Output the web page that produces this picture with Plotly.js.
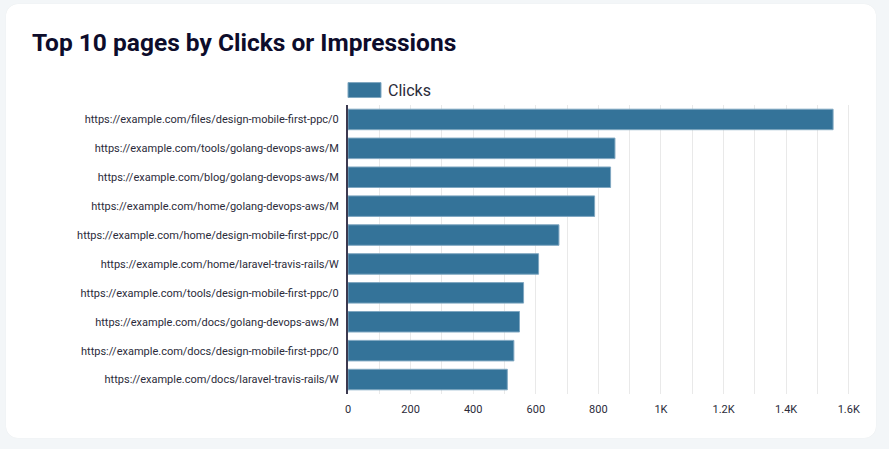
<!DOCTYPE html>
<html>
<head>
<meta charset="utf-8">
<script src="https://cdn.plot.ly/plotly-3.0.1.min.js"></script>
<style>
  html, body { margin:0; padding:0; width:889px; height:449px; background:#f3f6f8; overflow:hidden; }
  #card { position:absolute; left:6px; top:4px; width:870px; height:434px; background:#ffffff; border-radius:12px; box-shadow:0 0 1px rgba(0,0,0,0.08); }
  #chart { position:absolute; left:0; top:0; width:889px; height:449px; }
</style>
</head>
<body>
<div id="card"></div>
<div id="chart"></div>
<script>
const chartTitle = "Top 10 pages by Clicks or Impressions";
const seriesName = "Clicks";
const pages = [
  "https://example.com/files/design-mobile-first-ppc/0",
  "https://example.com/tools/golang-devops-aws/M",
  "https://example.com/blog/golang-devops-aws/M",
  "https://example.com/home/golang-devops-aws/M",
  "https://example.com/home/design-mobile-first-ppc/0",
  "https://example.com/home/laravel-travis-rails/W",
  "https://example.com/tools/design-mobile-first-ppc/0",
  "https://example.com/docs/golang-devops-aws/M",
  "https://example.com/docs/design-mobile-first-ppc/0",
  "https://example.com/docs/laravel-travis-rails/W"
];
const clicks = [1550, 853, 839, 788, 674, 609, 561, 548, 530, 509];
const xTickVals = [0, 200, 400, 600, 800, 1000, 1200, 1400, 1600];
const xTickText = ["0", "200", "400", "600", "800", "1K", "1.2K", "1.4K", "1.6K"];

const barColor = "#347399";
const barEdge = "#7fa7c1";

const trace = {
  type: "bar",
  orientation: "h",
  y: pages,
  x: clicks,
  name: seriesName,
  marker: { color: barColor, line: { color: barEdge, width: 1 } },
  hoverinfo: "x+y"
};

const plotW = 889 - 348 - 34;
const plotH = 449 - 104.5 - 54.5;

const layout = {
  width: 889,
  height: 449,
  paper_bgcolor: "rgba(0,0,0,0)",
  plot_bgcolor: "rgba(0,0,0,0)",
  margin: { l: 348, r: 34, t: 104.5, b: 54.5, pad: 0 },
  showlegend: false,
  bargap: 0.29,
  font: { family: "Roboto, 'Noto Sans', sans-serif", color: "#2b2b3a", size: 11 },
  title: {
    text: chartTitle,
    xref: "container", yref: "container",
    x: 32 / 889, xanchor: "left",
    y: 1 - 42 / 449, yanchor: "middle",
    font: { family: "Roboto, sans-serif", size: 24.5, weight: 700, color: "#0d0c2b" }
  },
  xaxis: {
    range: [0, 1620],
    tickmode: "array",
    tickvals: xTickVals,
    ticktext: xTickText,
    showgrid: true,
    gridcolor: "#e9e9e9",
    gridwidth: 1,
    zeroline: false,
    showline: false,
    ticks: "",
    ticklabelstandoff: 7,
    tickfont: { size: 11, color: "#2b2b3a" },
    minor: { tickmode: "linear", tick0: 0, dtick: 100, showgrid: true, gridcolor: "#e9e9e9", gridwidth: 1, ticks: "" },
    fixedrange: true
  },
  yaxis: {
    autorange: "reversed",
    type: "category",
    showgrid: false,
    zeroline: false,
    showline: true,
    linecolor: "#3c3a50",
    linewidth: 2,
    ticks: "",
    ticklabelstandoff: 5,
    tickfont: { size: 11, color: "#2b2b3a" },
    fixedrange: true
  },
  shapes: [{
    type: "rect", xref: "paper", yref: "paper",
    x0: 0, x1: 33 / plotW,
    y0: 1 + 7.5 / plotH, y1: 1 + 22.5 / plotH,
    fillcolor: barColor,
    line: { color: barEdge, width: 1 }
  }],
  annotations: [{
    xref: "paper", yref: "paper",
    x: 38 / plotW, y: 1 + 15 / plotH,
    xanchor: "left", yanchor: "middle",
    text: seriesName,
    showarrow: false,
    font: { family: "Roboto, sans-serif", size: 16, color: "#2b2b3a" }
  }]
};

Plotly.newPlot("chart", [trace], layout, { displayModeBar: false, staticPlot: true });
</script>
</body>
</html>
